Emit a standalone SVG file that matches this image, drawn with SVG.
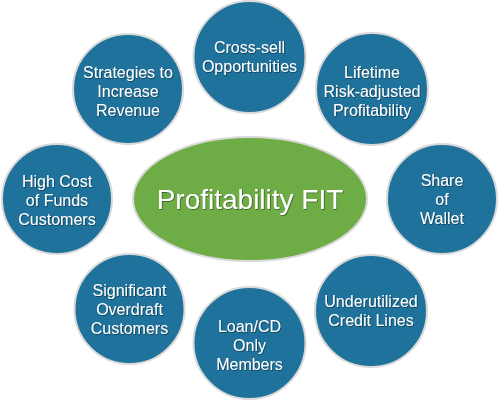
<svg xmlns="http://www.w3.org/2000/svg" width="500" height="402" viewBox="0 0 500 402">
<defs>
<style>
.node{fill:#1F729B;stroke:#D9D9D9;stroke-width:2}
.hub{fill:#6EAC46;stroke:#D9D9D9;stroke-width:2}
.t{font-family:"Liberation Sans",Arial,sans-serif;font-size:16px;fill:#FFFFFF;text-anchor:middle;filter:url(#ts)}
.big{font-size:28px}
</style>
<filter id="ts" x="-10%" y="-30%" width="120%" height="160%">
<feDropShadow dx="0.7" dy="0.7" stdDeviation="0.6" flood-color="#000000" flood-opacity="0.55"/>
</filter>
</defs>
<rect width="500" height="402" fill="#FFFFFF"/>
<g id="connectors"></g>
<g id="cross-sell">
<circle class="node" cx="249.5" cy="57" r="56"/>
<text class="t" x="249.5" y="53">Cross-sell</text>
<text class="t" x="249.5" y="72">Opportunities</text>
</g>
<g id="lifetime">
<circle class="node" cx="372" cy="89" r="56"/>
<text class="t" x="372" y="78">Lifetime</text>
<text class="t" x="372" y="97">Risk-adjusted</text>
<text class="t" x="372" y="116">Profitability</text>
</g>
<g id="share">
<circle class="node" cx="442" cy="199" r="55"/>
<text class="t" x="442" y="186">Share</text>
<text class="t" x="442" y="205">of</text>
<text class="t" x="442" y="224">Wallet</text>
</g>
<g id="underutilized">
<circle class="node" cx="371" cy="311" r="56"/>
<text class="t" x="371" y="307">Underutilized</text>
<text class="t" x="371" y="326">Credit Lines</text>
</g>
<g id="loan">
<circle class="node" cx="249.5" cy="343" r="56"/>
<text class="t" x="249.5" y="332">Loan/CD</text>
<text class="t" x="249.5" y="351">Only</text>
<text class="t" x="249.5" y="370">Members</text>
</g>
<g id="overdraft">
<circle class="node" cx="129.5" cy="309" r="55"/>
<text class="t" x="129.5" y="296">Significant</text>
<text class="t" x="129.5" y="315">Overdraft</text>
<text class="t" x="129.5" y="334">Customers</text>
</g>
<g id="highcost">
<circle class="node" cx="57" cy="199" r="55"/>
<text class="t" x="57" y="187">High Cost</text>
<text class="t" x="57" y="206">of Funds</text>
<text class="t" x="57" y="225">Customers</text>
</g>
<g id="strategies">
<circle class="node" cx="128" cy="89" r="55"/>
<text class="t" x="128" y="78">Strategies to</text>
<text class="t" x="128" y="97">Increase</text>
<text class="t" x="128" y="116">Revenue</text>
</g>
<g id="hub">
<ellipse class="hub" cx="250" cy="199" rx="117" ry="62"/>
<text class="t big" x="250" y="209">Profitability FIT</text>
</g>
</svg>
